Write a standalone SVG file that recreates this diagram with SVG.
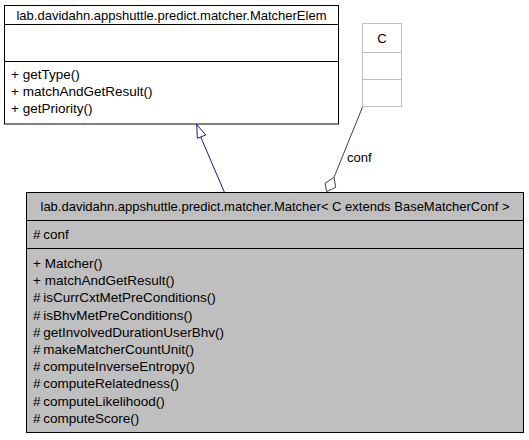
<svg xmlns="http://www.w3.org/2000/svg" width="529" height="440" viewBox="0 0 529 440">
<style>
text{font-family:"Liberation Sans",Arial,Helvetica,sans-serif;font-size:13px;fill:#000}
.hd{text-anchor:middle}
.m{font-size:13.5px}
.box{fill:#fff;stroke:#000;stroke-width:1}
.cur{fill:#bfbfbf;stroke:#000;stroke-width:1}
.tmpl{fill:#fff;stroke:#bfbfbf;stroke-width:1}
.sep{stroke:#000;stroke-width:1}
.sepl{stroke:#bfbfbf;stroke-width:1}
.inh{stroke:#191970;fill:none;stroke-width:1}
.agg{stroke:#404040;fill:none;stroke-width:1}
</style>
<rect width="529" height="440" fill="#fff"/>
<g id="edges">
<path class="inh" d="M224.5,192.5 L200.5,136.5"/>
<polygon points="196.7,124.5 197.3,138.3 205.7,135" fill="#fff" stroke="#191970"/>
<path class="agg" d="M362.7,106.7 L334,177.3"/>
<polygon points="334,177.3 335.7,187.3 326.7,191.7 325,183.3" fill="#fff" stroke="#404040"/>
<text x="347" y="162">conf</text>
</g>
<g id="MatcherElem">
<rect class="box" x="4.5" y="5.5" width="334" height="118.5"/>
<line class="sep" x1="4.5" y1="24.5" x2="338.5" y2="24.5"/>
<line class="sep" x1="4.5" y1="61.5" x2="338.5" y2="61.5"/>
<text class="hd" x="171.5" y="19.5">lab.davidahn.appshuttle.predict.matcher.MatcherElem</text>
<text class="m" x="11" y="78.5">+ getType()</text>
<text class="m" x="11" y="95.5">+ matchAndGetResult()</text>
<text class="m" x="11" y="112.5">+ getPriority()</text>
</g>
<g id="C">
<rect class="tmpl" x="362.5" y="23.5" width="39" height="83"/>
<line class="sepl" x1="362.5" y1="52.5" x2="401.5" y2="52.5"/>
<line class="sepl" x1="362.5" y1="79.5" x2="401.5" y2="79.5"/>
<text class="hd" x="382" y="42.5">C</text>
</g>
<g id="Matcher">
<rect class="cur" x="26.5" y="192.5" width="497" height="240"/>
<line class="sep" x1="26.5" y1="220.5" x2="523.5" y2="220.5"/>
<line class="sep" x1="26.5" y1="248.5" x2="523.5" y2="248.5"/>
<text class="hd" x="275" y="211">lab.davidahn.appshuttle.predict.matcher.Matcher&lt; C extends BaseMatcherConf &gt;</text>
<text class="m" x="33" y="239">#&#8201;conf</text>
<text class="m" x="33" y="268">+ Matcher()</text>
<text class="m" x="33" y="285.2">+ matchAndGetResult()</text>
<text class="m" x="33" y="302.4">#&#8201;isCurrCxtMetPreConditions()</text>
<text class="m" x="33" y="319.6">#&#8201;isBhvMetPreConditions()</text>
<text class="m" x="33" y="336.8">#&#8201;getInvolvedDurationUserBhv()</text>
<text class="m" x="33" y="354">#&#8201;makeMatcherCountUnit()</text>
<text class="m" x="33" y="371.2">#&#8201;computeInverseEntropy()</text>
<text class="m" x="33" y="388.4">#&#8201;computeRelatedness()</text>
<text class="m" x="33" y="405.6">#&#8201;computeLikelihood()</text>
<text class="m" x="33" y="422.8">#&#8201;computeScore()</text>
</g>
</svg>
